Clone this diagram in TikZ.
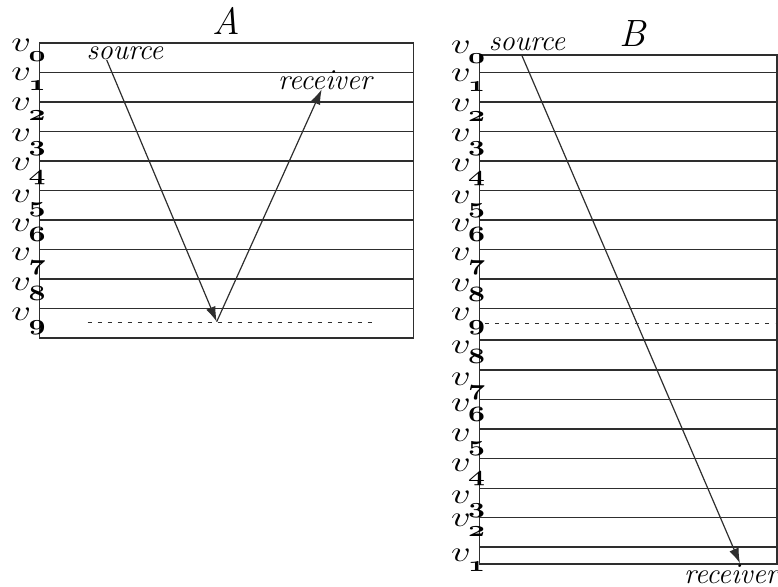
\documentclass[tikz,border=0pt]{standalone}
\usepackage{graphicx}
\usepackage{amsmath}
\usetikzlibrary{arrows.meta}
\definecolor{ink}{HTML}{2E2E2E}
\newcommand\vlab[1]{\scalebox{1.35}[1]{$v$\kern-1pt\lower5pt\hbox{\fontsize{10.5}{10.5}\selectfont$\boldsymbol{\mathnormal{#1}}$}}}
\tikzset{
  layer/.style={draw=ink, line width=0.7pt},
  dashline/.style={draw=ink, line width=0.5pt, dash pattern=on 2pt off 3pt},
  ray/.style={draw=ink, line width=0.6pt, -{Latex[length=7.5pt,width=5pt]}},
  lab/.style={anchor=base west, inner sep=0pt, font=\fontsize{14}{16}\selectfont},
  word/.style={anchor=base, inner sep=0pt, font=\fontsize{14.5}{16}\selectfont\itshape},
  title/.style={anchor=base, inner sep=0pt, font=\fontsize{19}{21}\selectfont\itshape}
}
\begin{document}
\begin{tikzpicture}[x=0.5pt,y=-0.5pt]
\useasboundingbox (0,0) rectangle (778,586);
% ---------- panel A ----------
\node[title] (titleA) at (226,34) {A};
\draw[layer] (39.5,43) rectangle (413.5,338);
\foreach \i in {1,...,9} \draw[layer] (39.5,43+29.5*\i) -- (413.5,43+29.5*\i);
\draw[dashline] (87.7,322.7) -- (376,322.7);
\foreach \d/\b in {0/51.7,1/80.7,2/110,3/141,4/170,5/202,6/231,7/260,8/290,9/320}
  \node[lab] (la\d) at (11,\b) {\vlab{\d}};
\node[word] (srcA) at (125,59) {source};
\node[word] (rcvA) at (325,89) {receiver};
\coordinate (sA) at (106.7,60);
\coordinate (bA) at (216.7,321.7);
\coordinate (rA) at (321.7,89.3);
\draw[ray] (sA) -- (bA);
\draw[ray] (bA) -- (rA);
% ---------- panel B ----------
\node[title] (titleB) at (633,46) {B};
\draw[layer] (479.3,55) rectangle (777,564);
\foreach \y in {72.5,102,131.5,161,190.5,220,249.5,279,308.5,340,370,399.5,429,458.7,488.3,517.7,547}
  \draw[layer] (479.3,\y) -- (777,\y);
\draw[dashline] (485,323.7) -- (775,323.7);
\foreach \d/\b [count=\k] in {0/53,1/81.7,2/111.7,3/141.7,4/171.7,5/203,6/231.7,7/260,8/291,9/320,8/353,7/385,6/411.7,5/441.7,4/471.7,3/503,2/526.7,1/561.7}
  \node[lab] (lb\k) at (450.7,\b) {\vlab{\d}};
\node[word] (srcB) at (527,50) {source};
\node[word] (rcvB) at (731,583) {receiver};
\coordinate (sB) at (521.7,55);
\coordinate (rB) at (740,563.3);
\draw[ray] (sB) -- (rB);
\end{tikzpicture}
\end{document}
